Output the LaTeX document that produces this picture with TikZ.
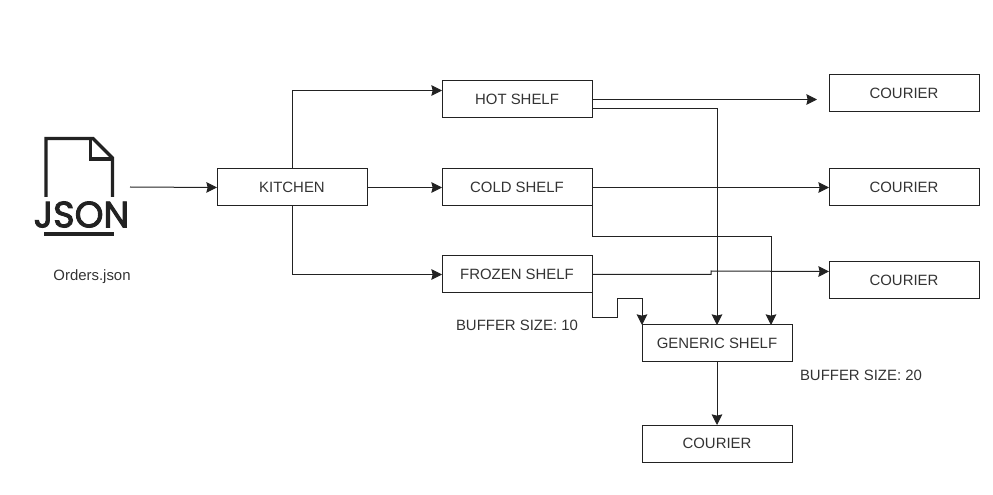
\documentclass[tikz,border=0pt]{standalone}
\usepackage{fontspec}
\setmainfont{Liberation Sans}
\newfontfamily\jsonfont[FakeBold=2.5]{Poppins}
\usetikzlibrary{arrows.meta}
\definecolor{linegray}{HTML}{222222}
\definecolor{textgray}{HTML}{333333}
\tikzset{
	shelfbox/.style={draw=linegray,line width=.75pt,minimum width=112.5pt,minimum height=27.75pt,outer sep=0pt,inner sep=0pt,text=textgray,font=\fontsize{11.2}{13}\selectfont},
	note/.style={text=textgray,inner sep=0pt,font=\fontsize{11.2}{13}\selectfont},
	link/.style={draw=linegray,line width=.75pt,-{Stealth[length=8pt,width=8pt,inset=1pt]}}
}
\begin{document}
\begin{tikzpicture}[x=.75pt,y=-.75pt]
	\useasboundingbox (0,0) rectangle (993,495);
	\node[shelfbox] (kitchen) at (292,187.5) {KITCHEN};
	\node[shelfbox] (hot) at (517,99.5) {HOT SHELF};
	\node[shelfbox] (cold) at (517,187.5) {COLD SHELF};
	\node[shelfbox] (frozen) at (517,274.5) {FROZEN SHELF};
	\node[shelfbox] (generic) at (717,343.5) {GENERIC SHELF};
	\node[shelfbox] (courierhot) at (904,93.5) {COURIER};
	\node[shelfbox] (couriercold) at (904,187.5) {COURIER};
	\node[shelfbox] (courierfrozen) at (904,280.5) {COURIER};
	\node[shelfbox] (couriergeneric) at (717,443.5) {COURIER};
	\node[note] (orders) at (92,276.5) {Orders.json};
	\node[note] (buffersmall) at (517,325) {BUFFER SIZE: 10};
	\node[note] (bufferbig) at (861,375) {BUFFER SIZE: 20};
	%json icon
	\draw[linegray,line width=2.6pt,miter limit=10] (46,197) -- (46,138.5) -- (93,138.5) -- (112.5,158) -- (112.5,197);
	\draw[linegray,line width=2.6pt] (90.5,138.5) -- (90.5,159) -- (112.5,159);
	\node[inner sep=0pt,text=linegray,font=\jsonfont\fontsize{27.5}{26}\selectfont] (jsonword) at (81.5,214.5) {JSON};
	\draw[linegray,line width=3.4pt] (44,234) -- (114,234);
	\coordinate (jsonout) at (130,187);
	\coordinate (hotend) at (817,99.5);
	%connectors
	\draw[link] (jsonout) -- (kitchen.west);
	\draw[link] (kitchen.north) |- ([yshift=6.75pt]hot.west);
	\draw[link] (kitchen.east) -- (cold.west);
	\draw[link] (kitchen.south) |- (frozen.west);
	\draw[link] (hot.east) -- (hotend);
	\draw[link] ([yshift=-6.75pt]hot.east) -| (generic.north);
	\draw[link] (cold.east) -- (couriercold.west);
	\draw[link] (cold.south east) |- (771,237) -- (771,325);%to generic
	\draw[link] (frozen.east) -- (711,274.5) -- (711,271) -- ([yshift=6.75pt]courierfrozen.west);
	\draw[link] (frozen.south east) |- (617,318) -- (617,299) -- (642,299) -- (generic.north west);
	\draw[link] (generic.south) -- (couriergeneric.north);
\end{tikzpicture}
\end{document}
